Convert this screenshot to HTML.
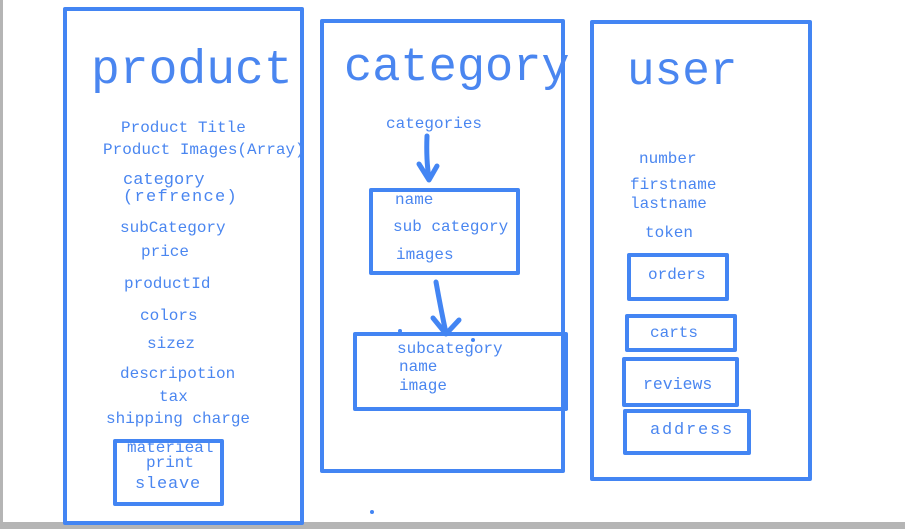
<!DOCTYPE html>
<html><head><style>body{margin:0;background:#fff}svg{display:block}text{font-family:"Liberation Mono",monospace;fill:#4a86f0}</style></head><body>
<svg width="905" height="529" viewBox="0 0 905 529">
<rect x="0" y="0" width="905" height="529" fill="#fff"/>
<rect x="0" y="0" width="3" height="529" fill="#b5b5b5"/>
<rect x="0" y="522" width="905" height="7" fill="#b5b5b5"/>
<g fill="none" stroke="#4385f3" stroke-width="4" stroke-linejoin="round">
<rect x="65" y="9" width="237" height="514"/>
<rect x="115" y="441" width="107" height="63"/>
<rect x="322" y="21" width="241" height="450"/>
<rect x="371" y="190" width="147" height="83"/>
<rect x="355" y="334" width="211" height="75"/>
<line x1="566" y1="334" x2="566" y2="410"/>
<rect x="592" y="22" width="218" height="457"/>
<rect x="629" y="255" width="98" height="44"/>
<rect x="627" y="316" width="108" height="34"/>
<rect x="624" y="359" width="113" height="46"/>
<rect x="625" y="411" width="124" height="42"/>
<g stroke-width="5" stroke-linecap="round">
<path d="M427 136 Q426 160 429 178"/>
<path d="M419 164 L429 180 L437 166"/>
<path d="M436 282 Q441 310 446 333"/>
<path d="M433 318 L446 334 L459 320"/>
</g>
</g>
<circle cx="400" cy="331" r="2" fill="#4385f3"/><circle cx="473" cy="340" r="2" fill="#4385f3"/><circle cx="372" cy="512" r="2" fill="#4385f3"/>
<text x="91" y="83" font-size="48">product</text>
<text x="344" y="80" font-size="47">category</text>
<text x="627" y="84" font-size="46">user</text>
<g font-size="16">
<text x="121" y="132">Product Title</text>
<text x="103" y="154">Product Images(Array)</text>
<text x="123" y="184" font-size="17">category</text>
<text x="123" y="201" font-size="17" letter-spacing="1.3">(refrence)</text>
<text x="120" y="232">subCategory</text>
<text x="141" y="256">price</text>
<text x="124" y="288">productId</text>
<text x="140" y="320">colors</text>
<text x="147" y="348">sizez</text>
<text x="120" y="378">descripotion</text>
<text x="159" y="401">tax</text>
<text x="106" y="423">shipping charge</text>
<text x="127" y="452">materieal</text>
<text x="146" y="467">print</text>
<text x="135" y="488" font-size="17" letter-spacing="0.8">sleave</text>
<text x="386" y="128">categories</text>
<text x="395" y="204">name</text>
<text x="393" y="231">sub category</text>
<text x="396" y="259">images</text>
<text x="397" y="353">subcategory</text>
<text x="399" y="371">name</text>
<text x="399" y="390">image</text>
<text x="639" y="163">number</text>
<text x="630" y="189">firstname</text>
<text x="630" y="208">lastname</text>
<text x="645" y="237">token</text>
<text x="648" y="279">orders</text>
<text x="650" y="337">carts</text>
<text x="643" y="389" font-size="16.5">reviews</text>
<text x="650" y="434" font-size="17" letter-spacing="1.8">address</text>
</g>
</svg>
</body></html>
